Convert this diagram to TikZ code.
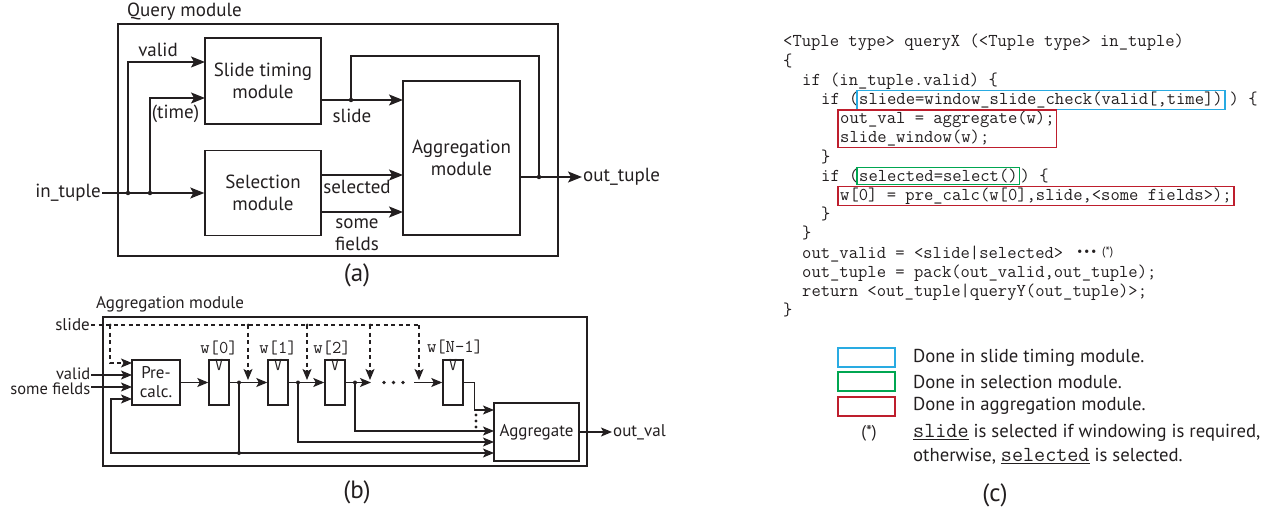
\documentclass[tikz,border=0pt]{standalone}
\usepackage{fontspec}
\setmainfont{PT Sans}
\setsansfont{PT Sans}
\usetikzlibrary{arrows.meta,fit,calc}
\definecolor{hlcyan}{HTML}{29ABE2}
\definecolor{hlgreen}{HTML}{00A651}
\definecolor{hlred}{HTML}{BE1E2D}
\definecolor{ink}{HTML}{231F20}
\newcommand\lblA{\fontsize{19}{22}\selectfont}
\newcommand\lblB{\fontsize{17}{19}\selectfont}
\newcommand\lblL{\fontsize{18.7}{24}\selectfont}
\newcommand\lblS{\fontsize{25}{28}\selectfont}
\newcommand\codeF{\fontsize{18.1}{19}\selectfont\ttfamily}
\newcommand\legtt[1]{\underline{{\fontsize{21.5}{22}\selectfont\ttfamily #1}}}
\begin{document}
\begin{tikzpicture}[x=1pt,y=-1pt,
  every node/.style={text=ink},
  framebox/.style={draw=ink, line width=1.4pt, inner sep=0},
  blk/.style={draw=ink, line width=1.4pt, inner sep=0, align=center, font=\lblA},
  blkb/.style={draw=ink, line width=1.4pt, inner sep=0, align=center, font=\lblB},
  reg/.style={draw=ink, line width=1.4pt, inner sep=0, minimum width=20pt, minimum height=45pt},
  wire/.style={draw=ink, line width=1.3pt},
  arrA/.style={wire, -{Stealth[length=14pt,width=11pt,inset=3pt]}},
  arrB/.style={wire, -{Stealth[length=11pt,width=9pt,inset=2.5pt]}},
  dsh/.style={wire, dash pattern=on 4pt off 3.5pt},
  darr/.style={dsh, -{Stealth[length=11pt,width=9pt,inset=2.5pt]}},
  jdot/.style={circle, fill=ink, inner sep=0, minimum size=4.5pt},
  sdot/.style={circle, fill=ink, inner sep=0, minimum size=3pt},
  lbl/.style={font=\lblA, inner sep=1pt, align=center},
  lblb/.style={font=\lblB, inner sep=1pt, align=center},
  codeln/.style={font=\codeF, inner sep=0, anchor=base west},
  hlbox/.style={draw, line width=1.2pt, inner xsep=2pt, inner ysep=1pt},
  legbox/.style={draw, line width=1.3pt, minimum width=57pt, minimum height=19pt, inner sep=0},
  wlab/.style={font=\codeF, inner sep=0, text height=10pt, text depth=1pt},
]
\useasboundingbox (0,0) rectangle (1276,510);

% ================= (a) =================
\node[lbl, anchor=west] (qlab) at (126,12) {Query module};
\node[framebox, minimum width=440pt, minimum height=232pt] (qm) at (338,140) {};
\node[blk, minimum width=116pt, minimum height=86pt] (stm) at (263,81) {Slide timing\\module};
\node[blk, minimum width=116pt, minimum height=85pt] (sel) at (263,193) {Selection\\module};
\node[blk, minimum width=117pt, minimum height=154pt] (agg) at (461.5,158) {Aggregation\\module};
\node[lbl, anchor=east] (inl) at (102,193) {in\_tuple};
\coordinate (d1) at (128,193);
\coordinate (d2) at (150,193);
\coordinate (vIn) at (205,62);
\coordinate (tIn) at (205,98);
\draw[arrA] (inl.east) -- (sel.west);
\draw[arrA] (d1) |- (vIn);
\draw[arrA] (d2) |- (tIn);
\node[jdot] at (d1) {};
\node[jdot] at (d2) {};
\node[lbl] (vl) at (158,50) {valid};
\node[lbl] (tl) at (175.5,114) {(time)};
% slide
\coordinate (sOut) at (321,100);
\coordinate (sIn) at (403,100);
\coordinate (d3) at (351,100);
\coordinate (d4) at (539,177);
\draw[arrA] (sOut) -- (sIn);
\draw[wire] (d3) |- (539,56) -- (d4);
\node[jdot] at (d3) {};
\node[lbl] (sll) at (352,116) {slide};
% selected / some fields
\coordinate (selO) at (321,175);
\coordinate (selI) at (403,175);
\coordinate (sfO) at (321,212);
\coordinate (sfI) at (403,212);
\draw[arrA] (selO) -- (selI);
\draw[arrA] (sfO) -- (sfI);
\node[lbl] (sell) at (357,187) {selected};
\node[lbl] (sfl) at (357,234.5) {some\\fields};
% out
\node[lbl, anchor=west] (otl) at (582,177) {out\_tuple};
\coordinate (aggO) at (520,177);
\draw[arrA] (aggO) -- (otl.west);
\node[jdot] at (d4) {};
\node[font=\lblS] (la) at (357,275) {(a)};

% ================= (b) =================
\node[lblb, anchor=west] (amlab) at (95,304) {Aggregation module};
\node[framebox, minimum width=484pt, minimum height=149pt] (am) at (345,391.5) {};
\node[blkb, minimum width=48pt, minimum height=45pt] (pc) at (156,382.5) {Pre-\\calc.};
\node[reg] (w0) at (219,382.5) {};
\node[reg] (w1) at (278,382.5) {};
\node[reg] (w2) at (335,382.5) {};
\node[reg] (wN) at (453,382.5) {};
\foreach \r in {w0,w1,w2,wN}{\node[font=\codeF, anchor=north, inner sep=0pt, text height=10pt, text depth=0pt, yshift=-1pt] at (\r.north) {V};}
\node[wlab] (lw0) at (219,349) {w[0]};
\node[wlab] (lw1) at (278,349) {w[1]};
\node[wlab] (lw2) at (332,349) {w[2]};
\node[wlab] (lwN) at (455,348) {w[N-1]};
\node[blkb, minimum width=85pt, minimum height=58pt] (ag) at (536.5,432) {Aggregate};

% slide (dashed)
\node[lblb, anchor=east] (slb) at (91,325) {slide};
\coordinate (s0) at (110,325);
\coordinate (s1) at (248,325);
\coordinate (s2) at (307,325);
\coordinate (s3) at (370,325);
\coordinate (sN) at (419,325);
\coordinate (t1) at (248,380);
\coordinate (t2) at (307,380);
\coordinate (t3) at (370,380);
\coordinate (tN) at (419,380);
\coordinate (pcS) at (132,363);
\coordinate (pcV) at (132,375);
\coordinate (pcF) at (132,387);
\coordinate (pcB) at (132,399);
\draw[dsh] (slb.east) -- (sN);
\draw[darr] (sN) -- (tN);
\draw[darr] (s1) -- (t1);
\draw[darr] (s2) -- (t2);
\draw[darr] (s3) -- (t3);
\draw[darr] (s0) |- (pcS);
\foreach \p in {s0,s1,s2,s3}{\node[sdot] at (\p) {};}

% inputs
\node[font=\fontsize{16.5}{18}\selectfont, anchor=east, text height=11pt, text depth=0pt, inner sep=0.5pt] (vlb) at (91,374) {valid};
\node[font=\fontsize{16.5}{18}\selectfont, anchor=east, text height=11pt, text depth=0pt, inner sep=0.5pt] (sflb) at (91,388.5) {some fields};
\draw[arrB] (vlb.east |- pcV) -- (pcV);
\draw[arrB] (sflb.east |- pcF) -- (pcF);

% data path
\coordinate (j0) at (239,382.5);
\coordinate (j1) at (298,382.5);
\coordinate (j2) at (355,382.5);
\coordinate (e2) at (371,382.5);
\coordinate (eN) at (414,382.5);
\draw[arrB] (pc.east) -- (w0.west);
\draw[arrB] (w0.east) -- (w1.west);
\draw[arrB] (w1.east) -- (w2.west);
\draw[arrB] (w2.east) -- (e2);
\draw[arrB] (eN) -- (wN.west);
\foreach \x in {384,393.5,403}{\node[sdot, minimum size=3.6pt] at (\x,382.5) {};}

% feedback and aggregate inputs
\coordinate (b0) at (239,453);
\coordinate (a0) at (494,453);
\coordinate (a1) at (494,442);
\coordinate (a2) at (494,431);
\coordinate (aN) at (494,410);
\draw[wire] (j0) -- (b0);
\draw[arrB] (b0) -- (a0);
\draw[arrB] (b0) -- (111,453) |- (pcB);
\draw[arrB] (j1) |- (a1);
\draw[arrB] (j2) |- (a2);
\draw[arrB] (wN.east) -- ++(11,0) |- (aN);
\foreach \y in {415,421,427}{\node[sdot, minimum size=3.2pt] at (476,\y) {};}
\foreach \p in {j0,j1,j2,b0}{\node[jdot, minimum size=4pt] at (\p) {};}

% output
\node[lblb, anchor=west] (ovl) at (612,432) {out\_val};
\draw[arrB] (ag.east) -- (ovl.west);
\node[font=\lblS] (lb) at (357,492) {(b)};

% ================= (c) =================
\node[codeln] (c0) at (783,47) {<Tuple type> queryX (<Tuple type> in\_tuple)};
\node[codeln] (c1) at (783,66.2) {\{};
\node[codeln] (c2) at (802,85.4) {if (in\_tuple.valid) \{};
\node[codeln] (c3a) at (821,104.6) {if (};
\node[codeln] (c3b) at (859,104.6) {sliede=window\_slide\_check(valid[,time])};
\node[codeln] (c3c) at (1229.5,104.6) {) \{};
\node[codeln] (c4) at (840,123.8) {out\_val = aggregate(w);};
\node[codeln] (c5) at (840,143) {slide\_window(w);};
\node[codeln] (c6) at (821,162.2) {\}};
\node[codeln] (c7a) at (821,181.4) {if (};
\node[codeln] (c7b) at (859,181.4) {selected=select()};
\node[codeln] (c7c) at (1020.5,181.4) {) \{};
\node[codeln] (c8) at (840,200.6) {w[0] = pre\_calc(w[0],slide,<some fields>);};
\node[codeln] (c9) at (821,219.8) {\}};
\node[codeln] (c10) at (802,239) {\}};
\node[codeln] (c11) at (802,258.2) {out\_valid = <slide|selected>};
\node[inner sep=0, anchor=base west, font=\fontsize{12}{12}\selectfont] (c11d) at (1077,256) {•\hspace{1.5pt}•\hspace{1.5pt}•};
\node[inner sep=0, anchor=base west, font=\fontsize{12}{12}\selectfont] (c11s) at (1102,256) {(*)};
\node[codeln] (c12) at (802,277.4) {out\_tuple = pack(out\_valid,out\_tuple);};
\node[codeln] (c13) at (802,296.6) {return <out\_tuple|queryY(out\_tuple)>;};
\node[codeln] (c14) at (783,315.8) {\}};
\node[hlbox, draw=hlcyan, fit=(c3b)] (hc) {};
\node[hlbox, draw=hlred, fit=(c4)(c5)] (hr1) {};
\node[hlbox, draw=hlgreen, fit=(c7b)] (hg) {};
\node[hlbox, draw=hlred, fit=(c8)] (hr2) {};

% legend
\node[legbox, draw=hlcyan] (lgc) at (866.5,357.5) {};
\node[legbox, draw=hlgreen] (lgg) at (866.5,381.5) {};
\node[legbox, draw=hlred] (lgr) at (866.5,406.5) {};
\node[font=\lblL, anchor=west, inner sep=0] (tc) at (913,358) {Done in slide timing module.};
\node[font=\lblL, anchor=west, inner sep=0] (tg) at (913,382) {Done in selection module.};
\node[font=\lblL, anchor=west, inner sep=0] (tr) at (913,406) {Done in aggregation module.};
\node[font=\fontsize{17}{17}\selectfont, inner sep=0] (ast) at (869,433) {(*)};
\node[font=\lblL, anchor=west, inner sep=0, align=left] (tn) at (913,444.5) {\legtt{slide} is selected if windowing is required,\\otherwise, \legtt{selected} is selected.};
\node[font=\lblS] (lc) at (995,495) {(c)};
\end{tikzpicture}
\end{document}
